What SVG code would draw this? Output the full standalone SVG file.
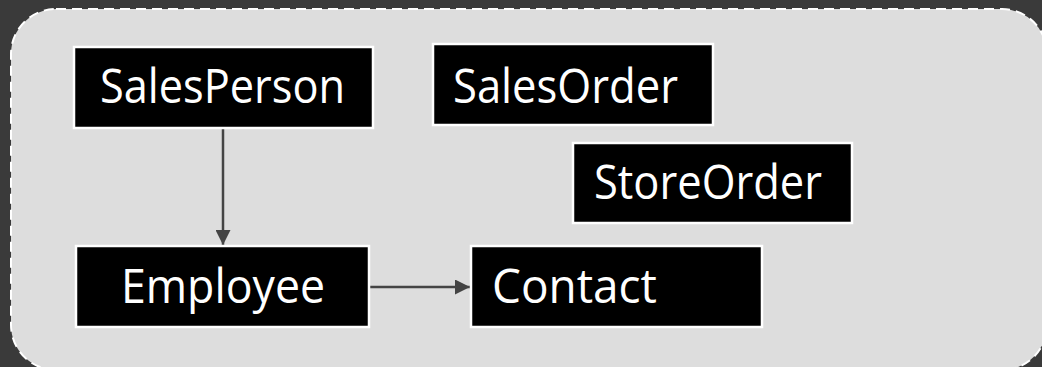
<svg xmlns="http://www.w3.org/2000/svg" width="1042" height="367" viewBox="0 0 1042 367">
<style>
.node rect{fill:#000;stroke:#fff;stroke-width:2.5}
.node text{fill:#fff;font-family:"Open Sans","DejaVu Sans",sans-serif;font-size:48px}
.edge{stroke:#444;stroke-width:2.5;fill:none}
</style>
<defs>
<marker id="arrow" viewBox="0 0 15 15" refX="15" refY="7.5" markerWidth="15" markerHeight="15" markerUnits="userSpaceOnUse" orient="auto">
<path d="M0,0 L15,7.5 L0,15 Z" fill="#444"/>
</marker>
</defs>
<rect x="0" y="0" width="1042" height="367" fill="#3a3a3a"/>
<rect id="container" x="11" y="9" width="1036" height="361" rx="45" ry="45" fill="#dddddd" stroke="#fff" stroke-width="2" stroke-dasharray="10 6"/>
<g id="connectors">
<line class="edge" x1="223" y1="128" x2="223" y2="245" marker-end="url(#arrow)"/>
<line class="edge" x1="370" y1="287" x2="470" y2="287" marker-end="url(#arrow)"/>
</g>
<g id="SalesPerson" class="node">
<rect x="74" y="47" width="299" height="81"/>
<text x="100" y="103" textLength="245" lengthAdjust="spacingAndGlyphs">SalesPerson</text>
</g>
<g id="SalesOrder" class="node">
<rect x="433" y="44" width="280" height="81"/>
<text x="453" y="103" textLength="225" lengthAdjust="spacingAndGlyphs">SalesOrder</text>
</g>
<g id="StoreOrder" class="node">
<rect x="573" y="143" width="279" height="80"/>
<text x="594" y="199" textLength="228" lengthAdjust="spacingAndGlyphs">StoreOrder</text>
</g>
<g id="Employee" class="node">
<rect x="76" y="246" width="293" height="81"/>
<text x="121" y="303" textLength="204" lengthAdjust="spacingAndGlyphs">Employee</text>
</g>
<g id="Contact" class="node">
<rect x="471" y="246" width="291" height="81"/>
<text x="492" y="303" textLength="165" lengthAdjust="spacingAndGlyphs">Contact</text>
</g>
</svg>
